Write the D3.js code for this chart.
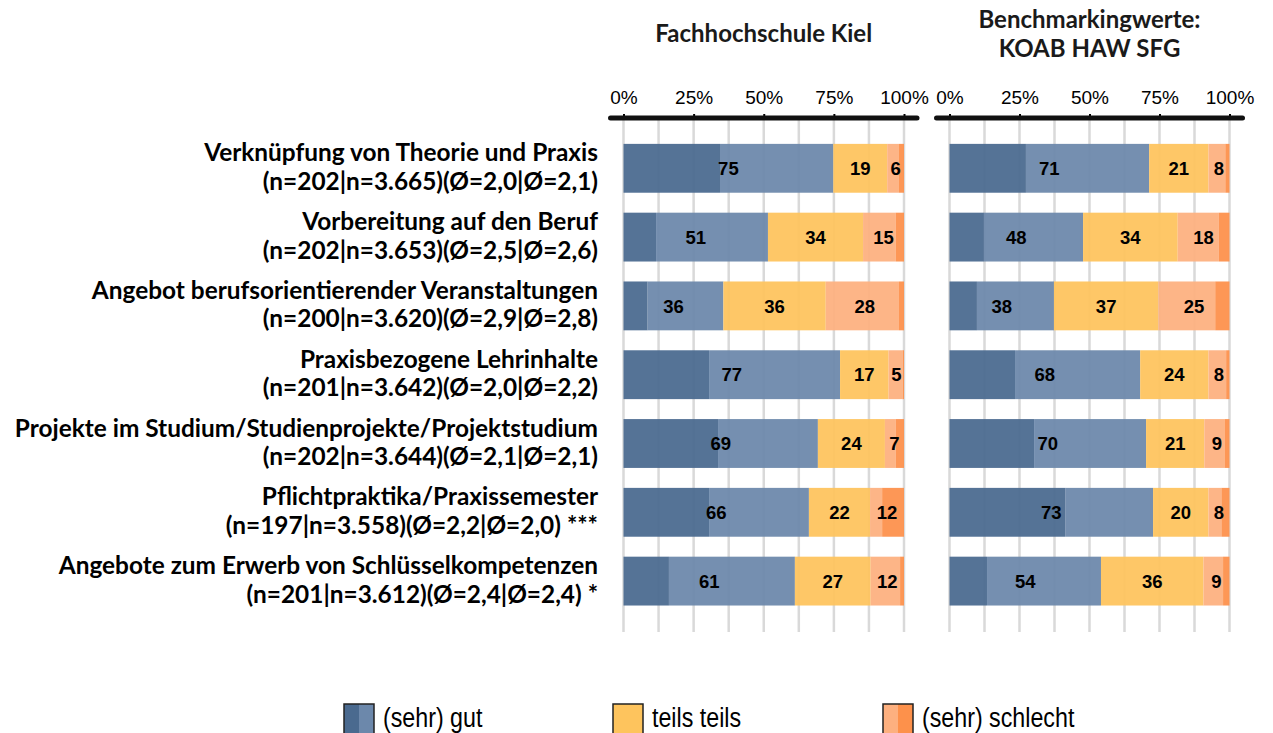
<!DOCTYPE html>
<html>
<head>
<meta charset="utf-8">
<script src="https://cdn.jsdelivr.net/npm/d3@7"></script>
<style>
  body { margin: 0; background: #fff; }
  svg { display: block; }
</style>
</head>
<body>
<div class="chart"></div>
<script>
// categories and their n / mean info lines
const categories = [
    "Verknüpfung von Theorie und Praxis",
    "Vorbereitung auf den Beruf",
    "Angebot berufsorientierender Veranstaltungen",
    "Praxisbezogene Lehrinhalte",
    "Projekte im Studium/Studienprojekte/Projektstudium",
    "Pflichtpraktika/Praxissemester",
    "Angebote zum Erwerb von Schlüsselkompetenzen"
];
const categoryInfo = [
    "(n=202|n=3.665)(Ø=2,0|Ø=2,1)",
    "(n=202|n=3.653)(Ø=2,5|Ø=2,6)",
    "(n=200|n=3.620)(Ø=2,9|Ø=2,8)",
    "(n=201|n=3.642)(Ø=2,0|Ø=2,2)",
    "(n=202|n=3.644)(Ø=2,1|Ø=2,1)",
    "(n=197|n=3.558)(Ø=2,2|Ø=2,0) ***",
    "(n=201|n=3.612)(Ø=2,4|Ø=2,4) *"
];

// segments: sehr gut, gut, teils teils, schlecht, sehr schlecht (%)
const fhKiel = [
    [34.4, 40.4, 19.2, 4.2, 1.8],
    [11.6, 39.9, 33.9, 11.7, 2.9],
    [8.6, 27.0, 36.5, 26.1, 1.8],
    [30.5, 46.7, 17.3, 5.0, 0.5],
    [33.7, 35.6, 23.9, 3.9, 2.9],
    [30.5, 35.6, 21.8, 4.3, 7.8],
    [16.2, 44.9, 27.0, 10.5, 1.4]
];
const koab = [
    [27.3, 44.0, 21.2, 6.0, 1.5],
    [12.3, 35.4, 33.8, 14.7, 3.8],
    [9.8, 27.5, 37.3, 20.3, 5.1],
    [23.4, 44.7, 24.4, 6.3, 1.2],
    [30.2, 40.0, 20.8, 7.2, 1.8],
    [41.3, 31.4, 19.8, 4.6, 2.9],
    [13.4, 40.7, 36.6, 7.0, 2.3]
];

// printed labels: (sehr) gut, teils teils, (sehr) schlecht
const fhLabels = [[75,19,6],[51,34,15],[36,36,28],[77,17,5],[69,24,7],[66,22,12],[61,27,12]];
const koabLabels = [[71,21,8],[48,34,18],[38,37,25],[68,24,8],[70,21,9],[73,20,8],[54,36,9]];

const ticks = [0, 25, 50, 75, 100];
const gridTicks = [0, 12.5, 25, 37.5, 50, 62.5, 75, 87.5, 100];
const legendLabels = ["(sehr) gut", "teils teils", "(sehr) schlecht"];

const colors = ["#4a6a8f", "#6c88ab", "#fec45d", "#fdb07f", "#fd914b"];

const width = 1273;
const height = 733;

const svg = d3.select('.chart')
    .append('svg')
    .attr('width', width)
    .attr('height', height)

const y = d3.scaleBand()
    .domain(d3.range(categories.length))
    .range([133.9, 615.5])
    .paddingInner(0.29)
    .paddingOuter(0.145);

const panels = [
    {title: ["Fachhochschule Kiel"], data: fhKiel, labels: fhLabels, x: d3.scaleLinear().domain([0, 100]).range([623.5, 904])},
    {title: ["Benchmarkingwerte:", "KOAB HAW SFG"], data: koab, labels: koabLabels, x: d3.scaleLinear().domain([0, 100]).range([949.5, 1229.5])}
];

panels.forEach(p => drawPanel(p));

function drawPanel(p) {
    const x = p.x;
    const g = svg.append('g');

    // gridlines
    g.selectAll('line.grid')
        .data(gridTicks)
        .enter()
        .append('line')
        .attr('class', 'grid')
        .attr('x1', d => x(d))
        .attr('x2', d => x(d))
        .attr('y1', 118)
        .attr('y2', 632)
        .attr('stroke', '#d9d9d9')
        .attr('stroke-width', 2.5);

    // stacked bars
    p.data.forEach((row, i) => {
        let acc = 0;
        const segs = row.map(v => { const s = {x0: acc, x1: acc + v}; acc += v; return s; });
        g.selectAll('rect.r' + i)
            .data(segs)
            .enter()
            .append('rect')
            .attr('class', 'r' + i)
            .attr('x', d => x(d.x0))
            .attr('y', y(i))
            .attr('width', d => x(d.x1) - x(d.x0))
            .attr('height', y.bandwidth())
            .attr('fill', (d, j) => colors[j])
            .attr('fill-opacity', 0.94);

        // combined groups for labels
        const groups = [
            [0, row[0] + row[1]],
            [row[0] + row[1], row[0] + row[1] + row[2]],
            [row[0] + row[1] + row[2], acc]
        ];
        g.selectAll('text.v' + i)
            .data(groups)
            .enter()
            .append('text')
            .attr('class', 'v' + i)
            .attr('x', d => x((d[0] + d[1]) / 2))
            .attr('y', y(i) + y.bandwidth() / 2)
            .attr('dy', '0.36em')
            .attr('text-anchor', 'middle')
            .attr('font-family', 'Liberation Sans, Arial, sans-serif')
            .attr('font-weight', 'bold')
            .attr('font-size', 18.5)
            .attr('fill', '#000')
            .text((d, j) => p.labels[i][j]);
    });

    // axis
    const axis = d3.axisTop(x)
        .tickValues(ticks)
        .tickSize(4)
        .tickSizeOuter(0)
        .tickFormat(d => d + '%');
    const ag = g.append('g')
        .attr('transform', 'translate(0,118)')
        .call(axis);
    ag.select('.domain').remove();
    ag.selectAll('.tick line').attr('stroke', '#000').attr('stroke-width', 2);
    ag.selectAll('.tick text')
        .attr('font-family', 'Liberation Sans, Arial, sans-serif')
        .attr('font-size', 19)
        .attr('fill', '#000')
        .attr('y', -14);
    g.append('line')
        .attr('x1', x(0) - 13)
        .attr('x2', x(100) + 13)
        .attr('y1', 118)
        .attr('y2', 118)
        .attr('stroke', '#111')
        .attr('stroke-width', 5)
        .attr('stroke-linecap', 'round');

    // title
    const cx = (x.range()[0] + x.range()[1]) / 2;
    g.selectAll('text.title')
        .data(p.title)
        .enter()
        .append('text')
        .attr('class', 'title')
        .attr('x', cx)
        .attr('y', (d, i) => p.title.length === 1 ? 42 : 28 + i * 29)
        .attr('text-anchor', 'middle')
        .attr('font-family', 'Lato, sans-serif')
        .attr('font-weight', 'bold')
        .attr('font-size', 24)
        .attr('fill', '#1a1a1a')
        .text(d => d);
}

// category labels
const labelG = svg.append('g');
categories.forEach((c, i) => {
    const cy = y(i) + y.bandwidth() / 2;
    labelG.append('text')
        .attr('x', 598)
        .attr('y', cy - 7)
        .attr('text-anchor', 'end')
        .attr('font-family', 'Lato, sans-serif')
        .attr('font-weight', 'bold')
        .attr('font-size', 24.4)
        .attr('fill', '#000')
        .text(c);
    labelG.append('text')
        .attr('x', 598)
        .attr('y', cy + 21.5)
        .attr('text-anchor', 'end')
        .attr('font-family', 'Lato, sans-serif')
        .attr('font-weight', 'bold')
        .attr('font-size', 24.4)
        .attr('fill', '#000')
        .text(categoryInfo[i]);
});

// legend
const legendX = [344, 613, 883];
const swatchColors = [[colors[0], colors[1]], [colors[2], colors[2]], [colors[3], colors[4]]];
const lg = svg.append('g');
legendLabels.forEach((l, i) => {
    const sx = legendX[i];
    lg.append('rect').attr('x', sx).attr('y', 704).attr('width', 15).attr('height', 32).attr('fill', swatchColors[i][0]);
    lg.append('rect').attr('x', sx + 15).attr('y', 704).attr('width', 15).attr('height', 32).attr('fill', swatchColors[i][1]);
    lg.append('rect').attr('x', sx).attr('y', 704).attr('width', 30).attr('height', 32)
        .attr('fill', 'none').attr('stroke', '#222').attr('stroke-width', 1.5);
    lg.append('text')
        .attr('transform', `translate(${sx + 39},727) scale(0.83,1)`)
        .attr('font-family', 'Liberation Sans, Arial, sans-serif')
        .attr('font-size', 28)
        .attr('fill', '#000')
        .text(l);
});
</script>
</body>
</html>
